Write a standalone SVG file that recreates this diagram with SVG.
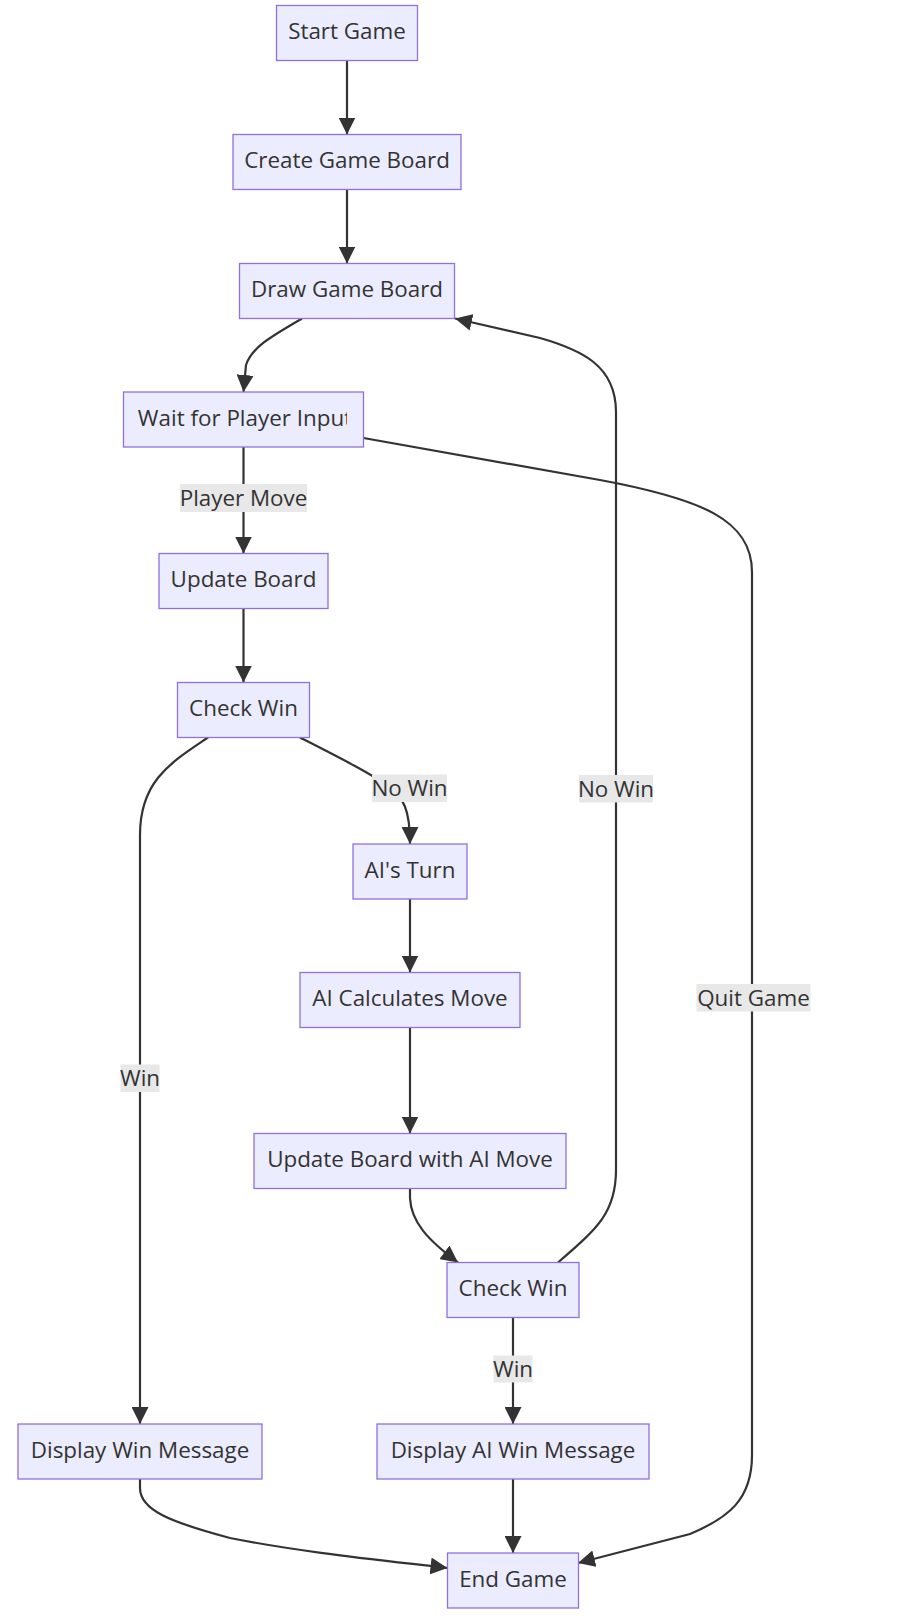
<svg xmlns="http://www.w3.org/2000/svg" width="916" height="1620" viewBox="0 0 916 1620">
<style>
.node rect{fill:#ECECFF;stroke:#9370DB;stroke-width:1.3px}
.node text,.lbl text{font-family:"Open Sans","Noto Sans","DejaVu Sans",sans-serif;font-size:22.4px;fill:#333333;text-anchor:middle}
.edge{fill:none;stroke:#333333;stroke-width:2.2px}
.lbl rect{fill:#e8e8e8;stroke:none}
</style>
<defs>
<marker id="arr" viewBox="0 0 10 10" refX="10" refY="5" markerUnits="userSpaceOnUse" markerWidth="17" markerHeight="17" orient="auto">
<path d="M0,0 L10,5 L0,10 z" fill="#333333"/>
</marker>
<clipPath id="clipWait"><rect x="123" y="390" width="224" height="60"/></clipPath>
</defs>
<rect x="0" y="0" width="916" height="1620" fill="#ffffff"/>
<g id="connectors">
<path class="edge" d="M347,60.5 L347,134.5" marker-end="url(#arr)"/>
<path class="edge" d="M347,189.5 L347,263.5" marker-end="url(#arr)"/>
<path class="edge" d="M302,318.5 C272,336 252,347 246,365 L243.5,392" marker-end="url(#arr)"/>
<path class="edge" d="M243.5,447 L243.5,553.5" marker-end="url(#arr)"/>
<path class="edge" d="M243.5,608.5 L243.5,682.5" marker-end="url(#arr)"/>
<path class="edge" d="M300,737.5 C340,758 368,772 388,786 C404,798 410,810 410,844" marker-end="url(#arr)"/>
<path class="edge" d="M208,737.5 C172,762 140,780 140,835 L140,1424" marker-end="url(#arr)"/>
<path class="edge" d="M410,899 L410,972.5" marker-end="url(#arr)"/>
<path class="edge" d="M410,1027.5 L410,1133.5" marker-end="url(#arr)"/>
<path class="edge" d="M410,1189 L410,1198 C411,1222 428,1240 458,1262.5" marker-end="url(#arr)"/>
<path class="edge" d="M558,1262.5 C598,1228 616,1212 616,1170 L616,412 C616,366 582,350 540,338 L455,318.5" marker-end="url(#arr)"/>
<path class="edge" d="M363.5,438 L600,480 C702,499 752,520 752,572 L752,1455 C752,1500 728,1518 690,1534 L578,1563" marker-end="url(#arr)"/>
<path class="edge" d="M513,1317.5 L513,1424" marker-end="url(#arr)"/>
<path class="edge" d="M140,1479 L140,1488 C140,1510 170,1522 230,1538 C300,1552 380,1560 447.5,1568" marker-end="url(#arr)"/>
<path class="edge" d="M513,1479 L513,1553" marker-end="url(#arr)"/>
</g>
<g id="edge-labels">
<g class="lbl" id="lbl-player-move"><rect x="180" y="484" width="127" height="28"/><text x="243.5" y="506">Player Move</text></g>
<g class="lbl" id="lbl-nowin-1"><rect x="372" y="774.5" width="75" height="27.5"/><text x="409.5" y="796">No Win</text></g>
<g class="lbl" id="lbl-win-1"><rect x="120.5" y="1064.5" width="39" height="27.5"/><text x="140" y="1086">Win</text></g>
<g class="lbl" id="lbl-quit"><rect x="696.5" y="984" width="114" height="27.5"/><text x="753.5" y="1005.5">Quit Game</text></g>
<g class="lbl" id="lbl-nowin-2"><rect x="579" y="775" width="74" height="27.5"/><text x="616" y="796.5">No Win</text></g>
<g class="lbl" id="lbl-win-2"><rect x="493.5" y="1355.5" width="39" height="27"/><text x="513" y="1377">Win</text></g>
</g>
<g class="node" id="start"><rect x="276.5" y="5.5" width="141" height="55"/><text x="347" y="39">Start Game</text></g>
<g class="node" id="create"><rect x="233" y="134.5" width="228" height="55"/><text x="347" y="168">Create Game Board</text></g>
<g class="node" id="draw"><rect x="239.5" y="263.5" width="215" height="55"/><text x="347" y="297">Draw Game Board</text></g>
<g class="node" id="wait"><rect x="123.5" y="392" width="240" height="55"/><text x="245" y="425.5" clip-path="url(#clipWait)">Wait for Player Input</text></g>
<g class="node" id="update"><rect x="159" y="553.5" width="169" height="55"/><text x="243.5" y="587">Update Board</text></g>
<g class="node" id="check1"><rect x="177.5" y="682.5" width="132" height="55"/><text x="243.5" y="716">Check Win</text></g>
<g class="node" id="aiturn"><rect x="353" y="844" width="114" height="55"/><text x="410" y="877.5">AI's Turn</text></g>
<g class="node" id="aicalc"><rect x="300" y="972.5" width="220" height="55"/><text x="410" y="1006">AI Calculates Move</text></g>
<g class="node" id="aiupdate"><rect x="254" y="1133.5" width="312" height="55"/><text x="410" y="1167">Update Board with AI Move</text></g>
<g class="node" id="check2"><rect x="447" y="1262.5" width="132" height="55"/><text x="513" y="1296">Check Win</text></g>
<g class="node" id="winmsg"><rect x="18" y="1424" width="244" height="55"/><text x="140" y="1457.5">Display Win Message</text></g>
<g class="node" id="aiwinmsg"><rect x="377" y="1424" width="272" height="55"/><text x="513" y="1457.5">Display AI Win Message</text></g>
<g class="node" id="end"><rect x="447.5" y="1553" width="131" height="55"/><text x="513" y="1586.5">End Game</text></g>
</svg>
